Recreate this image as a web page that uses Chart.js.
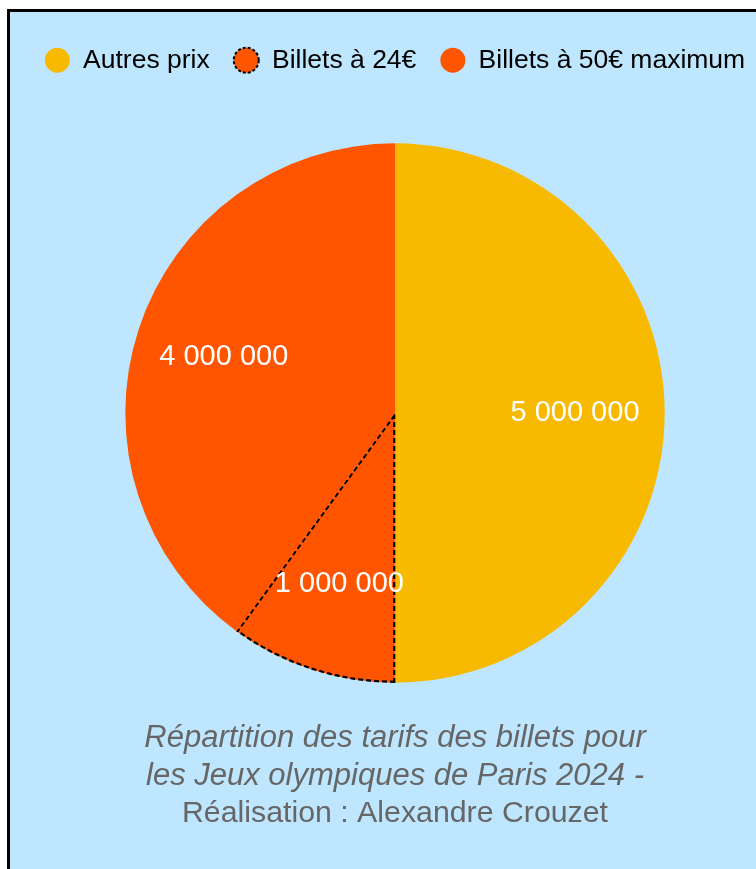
<!DOCTYPE html>
<html lang="fr">
<head>
<meta charset="utf-8">
<title>Tarifs des billets - JO Paris 2024</title>
<script src="https://cdn.jsdelivr.net/npm/chart.js@4.4.1/dist/chart.umd.min.js"></script>
<style>
  html, body { margin: 0; padding: 0; background: #fff; overflow: hidden; }
  #frame {
    position: absolute; left: 7px; top: 9px;
    width: 770px; height: 900px;
    border: 3px solid #000;
    background: #bee6fe;
  }
  canvas { display: block; }
</style>
</head>
<body>
<div id="frame"><canvas id="pieChart" width="770" height="880"></canvas></div>
<script>
// Data
const categories = ['Autres prix', 'Billets à 24€', 'Billets à 50€ maximum'];
const ticketCounts = [5000000, 1000000, 4000000];
const captionLines = ['Répartition des tarifs des billets pour', 'les Jeux olympiques de Paris 2024 -'];
const creditLine = 'Réalisation : Alexandre Crouzet';

const FONT = "'Liberation Sans', Arial, sans-serif";
const DASHED = 1; // index of the slice drawn with a dashed outline

function formatCount(v) {
    return String(v).replace(/\B(?=(\d{3})+(?!\d))/g, ' ');
}

// value labels at 2/3 of the radius
const sliceLabels = {
    id: 'sliceLabels',
    afterDatasetsDraw(chart) {
        const ctx = chart.ctx;
        const meta = chart.getDatasetMeta(0);
        ctx.save();
        ctx.font = '29px ' + FONT;
        ctx.fillStyle = '#fff';
        ctx.textAlign = 'center';
        ctx.textBaseline = 'middle';
        meta.data.forEach((arc, i) => {
            const p = arc.getProps(['x', 'y', 'startAngle', 'endAngle', 'outerRadius'], true);
            const mid = (p.startAngle + p.endAngle) / 2;
            const r = p.outerRadius * 2 / 3;
            ctx.fillText(formatCount(chart.data.datasets[0].data[i]), p.x + Math.cos(mid) * r, p.y + Math.sin(mid) * r);
        });
        ctx.restore();
    }
};

// extra space under the legend
const legendGap = {
    id: 'legendGap',
    beforeInit(chart) {
        const originalFit = chart.legend.fit;
        chart.legend.fit = function fit() {
            originalFit.bind(chart.legend)();
            this.height += 59.5;
        };
    }
};

const ctx = document.getElementById('pieChart').getContext('2d');
const pieChart = new Chart(ctx, {
    type: 'pie',
    data: {
        labels: categories,
        datasets: [{
            data: ticketCounts,
            backgroundColor: ['#f7ba00', '#ff5500', '#ff5500'],
            borderColor: '#000',
            borderWidth: c => c.dataIndex === DASHED ? 2 : 0,
            borderDash: c => c.dataIndex === DASHED ? [5, 3] : [],
            borderAlign: 'inner'
        }]
    },
    options: {
        responsive: false,
        animation: false,
        layout: { padding: { top: 11, bottom: 0 } },
        plugins: {
            legend: {
                position: 'top',
                labels: {
                    color: '#000',
                    font: { family: FONT, size: 26.5 },
                    usePointStyle: true,
                    pointStyle: 'circle',
                    pointStyleWidth: 25,
                    boxHeight: 17.7,
                    padding: 24,
                    generateLabels(chart) {
                        const items = Chart.overrides.doughnut.plugins.legend.labels.generateLabels(chart);
                        items.forEach(item => {
                            if (item.index === DASHED) {
                                item.strokeStyle = '#000';
                                item.lineWidth = 2;
                                item.lineDash = [3, 2];
                            } else {
                                item.lineWidth = 0;
                            }
                        });
                        return items;
                    }
                }
            },
            subtitle: {
                display: true,
                position: 'bottom',
                text: captionLines,
                color: '#666',
                font: { family: FONT, size: 31, style: 'italic', lineHeight: 38 / 31 },
                padding: { top: 36, bottom: 0 }
            },
            title: {
                display: true,
                position: 'bottom',
                text: creditLine,
                color: '#666',
                font: { family: FONT, size: 30.3, weight: 'normal', lineHeight: 38 / 30.3 },
                padding: { top: 0, bottom: 59 }
            },
            tooltip: { enabled: false }
        }
    },
    plugins: [sliceLabels, legendGap]
});
</script>
</body>
</html>
